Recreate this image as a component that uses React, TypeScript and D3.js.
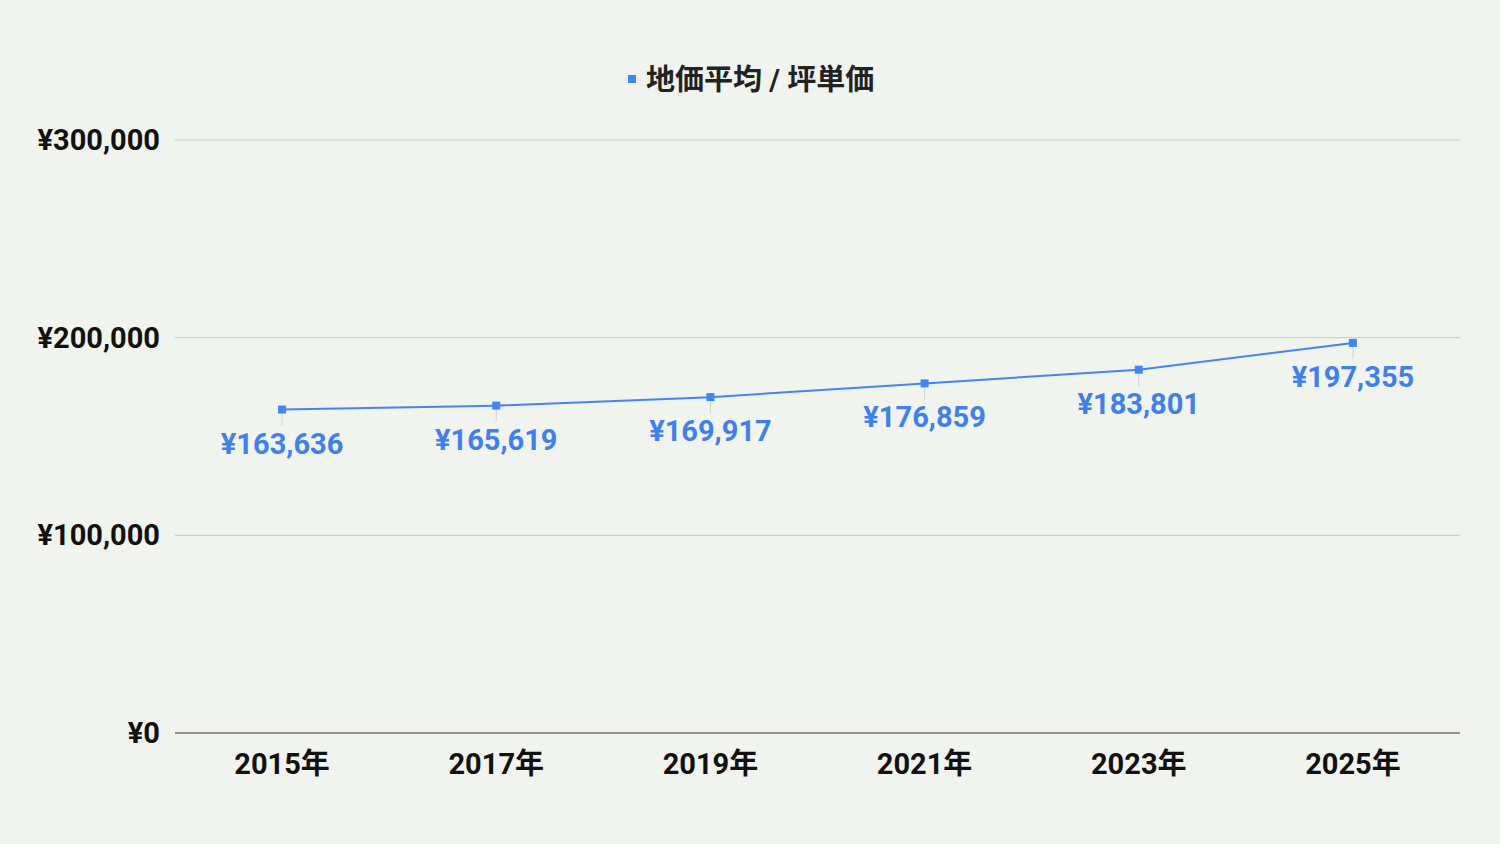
import React from 'react';
import * as d3 from 'd3';

const years = ['2015年', '2017年', '2019年', '2021年', '2023年', '2025年'];
const prices = [163636, 165619, 169917, 176859, 183801, 197355];
const yTicks = [0, 100000, 200000, 300000];
const seriesName = '地価平均 / 坪単価';

const W = 1500;
const H = 844;
const margin = { top: 140, right: 40, bottom: 111, left: 175 };
const blue = '#4285f4';
const font = 'Roboto, "Noto Sans CJK JP", sans-serif';
const fs = 29;

const yen = (v: number) => '¥' + d3.format(',')(v);

export default function App() {
  const x = d3.scaleBand<string>()
    .domain(years)
    .range([margin.left, W - margin.right]);
  const y = d3.scaleLinear()
    .domain([0, 300000])
    .range([H - margin.bottom, margin.top]);

  const cx = (i: number) => (x(years[i]) ?? 0) + x.bandwidth() / 2;

  const line = d3.line<number>()
    .x((_, i) => cx(i))
    .y(d => y(d));

  return (
    <svg width={W} height={H} style={{ position: 'fixed', left: 0, top: 0, display: 'block' }}>
      <rect width={W} height={H} fill="#f1f3ee" />

      {/* legend */}
      <rect x={628} y={75} width={8} height={8} fill={blue} />
      <text x={646} y={90} fontFamily={font} fontWeight="bold" fontSize={fs} fill="#222">
        {seriesName}
      </text>

      {/* grid + y labels */}
      {yTicks.map(t => (
        <g key={t}>
          <line
            x1={margin.left}
            x2={W - margin.right}
            y1={y(t)}
            y2={y(t)}
            stroke={t === 0 ? '#333' : '#c8cac6'}
            strokeWidth={1}
          />
          <text
            x={160}
            y={y(t)}
            dy="0.35em"
            textAnchor="end"
            fontFamily={font}
            fontWeight="bold"
            fontSize={fs}
            fill="#111"
          >
            {yen(t)}
          </text>
        </g>
      ))}

      {/* x labels */}
      {years.map((yr, i) => (
        <text
          key={yr}
          x={cx(i)}
          y={774}
          textAnchor="middle"
          fontFamily={font}
          fontWeight="bold"
          fontSize={fs}
          fill="#111"
        >
          {yr}
        </text>
      ))}

      {/* leader lines */}
      {prices.map((p, i) => (
        <line key={'l' + i} x1={cx(i)} x2={cx(i)} y1={y(p)} y2={y(p) + 16} stroke="#d0d2cd" strokeWidth={1} />
      ))}

      <path d={line(prices) ?? ''} fill="none" stroke={blue} strokeWidth={2} />

      {prices.map((p, i) => (
        <rect key={'m' + i} x={cx(i) - 4} y={y(p) - 4} width={8} height={8} fill={blue} />
      ))}

      {prices.map((p, i) => (
        <text
          key={'t' + i}
          x={cx(i)}
          y={y(p) + 44}
          textAnchor="middle"
          fontFamily={font}
          fontWeight="bold"
          fontSize={fs}
          fill="#3f80ea"
        >
          {yen(p)}
        </text>
      ))}
    </svg>
  );
}
